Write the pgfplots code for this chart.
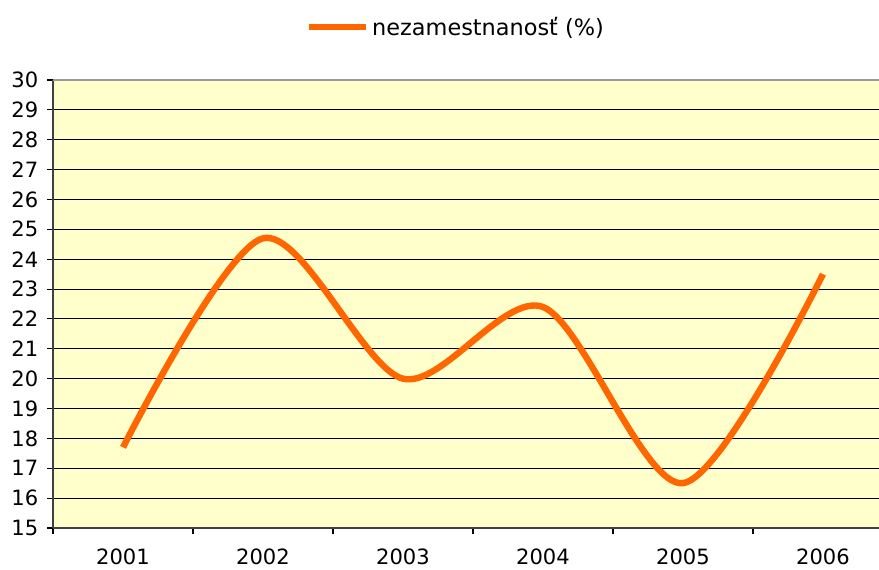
\documentclass[border=0pt]{standalone}
\usepackage{pgfplots}
\pgfplotsset{compat=1.18}
\usepackage{fontspec}
\setmainfont{DejaVu Sans}
\definecolor{lineor}{HTML}{FF6600}
\definecolor{bgyel}{HTML}{FFFFCC}
\begin{document}
\begin{tikzpicture}
\path[use as bounding box] (0,0) rectangle (659.25pt,427.5pt);
\begin{axis}[
  at={(39.75pt,31.5pt)}, anchor=south west,
  scale only axis, width=630pt, height=336pt,
  xmin=-0.5, xmax=5.5, ymin=15, ymax=30,
  axis lines*=left,
  axis line style={draw=black!75, line width=1.1pt},
  axis background/.style={fill=bgyel},
  ytick={15,...,30},
  xtick={0,...,5},
  xticklabels={2001,2002,2003,2004,2005,2006},
  minor xtick={-0.5,0.5,...,5.5},
  major x tick style={draw=none},
  tick align=outside,
  major tick length=4.5pt, minor tick length=4.5pt,
  tick style={black, line width=0.8pt},
  ymajorgrids,
  major grid style={black, line width=0.8pt},
  /pgf/number format/assume math mode=true,
  /pgf/number format/set thousands separator={},
  tick label style={font=\fontsize{15.8}{18}\selectfont},
  yticklabel style={xshift=-3pt},
  xticklabel style={yshift=-7.5pt},
  legend style={at={(axis description cs:0.48,1.118)}, anchor=center,
    draw=none, fill=none, font=\fontsize{16.8}{19}\selectfont,
    /tikz/every even column/.append style={column sep=2pt}},
  legend image code/.code={\draw[#1] (0pt,0pt) -- (43pt,0pt);},
]
\addplot[lineor, line width=4.8pt, smooth, line join=round] coordinates {
  (0,17.7) (1,24.7) (2,20.0) (3,22.4) (4,16.5) (5,23.5)
};
\addlegendentry{nezamestnanosť (\%)}
\draw[black!40, line width=1.5pt] (rel axis cs:0,1) -- (rel axis cs:1,1);
\end{axis}
\end{tikzpicture}
\end{document}
